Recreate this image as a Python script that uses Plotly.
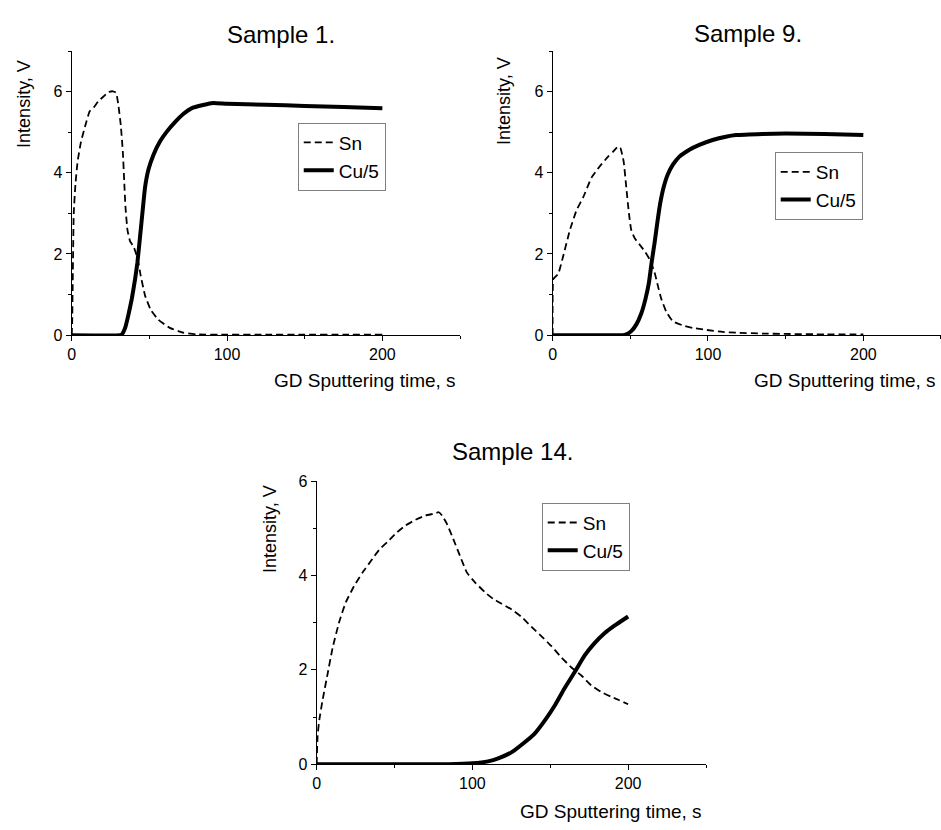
import plotly.graph_objects as go

# ---------------- data ----------------
s1_sn_t = [0, 0.3, 0.6, 1.3, 2.4, 3.8, 6, 8.8, 11.5, 14.1, 17.3, 20.5, 23.7, 26.5, 28.6, 30.1, 31.6, 32.9,
           33.8, 34.6, 35.9, 37.6, 39.7, 42.3, 44.4, 47.2, 50.9, 55.8, 63.2, 71.8, 80.3, 100, 125, 150, 175, 200]
s1_sn_v = [0, 0.3, 1.14, 3.0, 3.72, 4.28, 4.77, 5.17, 5.51, 5.61, 5.77, 5.88, 5.99, 6.01, 5.97, 5.65, 5.17, 4.52,
           3.8, 3.16, 2.59, 2.31, 2.19, 1.91, 1.47, 0.98, 0.62, 0.38, 0.18, 0.06, 0.02, 0.01, 0.01, 0.01, 0.01, 0.01]
s1_cu_t = [0, 31, 32.3, 34.4, 36.5, 38.7, 40.8, 42.3, 44, 45.7, 47.2, 49.4, 52.6, 56.8, 61.1, 66.5, 71.8, 77.1,
           84.6, 91, 100, 125, 150, 175, 200]
s1_cu_v = [0, 0, 0.02, 0.18, 0.5, 0.9, 1.38, 1.79, 2.43, 3.08, 3.64, 4.08, 4.44, 4.77, 5.01, 5.25, 5.45, 5.59,
           5.67, 5.72, 5.7, 5.68, 5.65, 5.62, 5.59]

s9_sn_t = [0, 0.4, 1.5, 3.6, 6.8, 11.1, 15.4, 19.7, 25, 30.3, 35.7, 38.9, 42.1, 43.6, 45.7, 47.4, 49.1, 50.6,
           52.8, 56, 59.2, 62.4, 65.6, 67.7, 69.9, 73.1, 77.4, 83.8, 90.2, 98.7, 109.4, 118, 135, 150, 175, 200]
s9_sn_v = [0, 1.38, 1.43, 1.51, 1.95, 2.59, 3.08, 3.4, 3.88, 4.16, 4.4, 4.52, 4.65, 4.61, 4.28, 3.64, 3.0, 2.59,
           2.39, 2.23, 2.07, 1.87, 1.55, 1.22, 0.9, 0.58, 0.34, 0.24, 0.18, 0.13, 0.08, 0.06, 0.04, 0.03, 0.02, 0.02]
s9_cu_t = [0, 45, 47.4, 50.6, 53.8, 57.1, 59.8, 62, 63.7, 65.6, 67.3, 69.2, 71.4, 74.1, 77.4, 81.6, 88, 94.4,
           103, 111.5, 118, 135, 150, 175, 200]
s9_cu_v = [0, 0, 0.02, 0.1, 0.26, 0.54, 0.9, 1.3, 1.79, 2.27, 2.75, 3.24, 3.64, 3.96, 4.2, 4.4, 4.57, 4.69,
           4.81, 4.89, 4.93, 4.96, 4.97, 4.96, 4.93]

s14_sn_t = [0, 0.6, 1.7, 3.8, 7, 10.2, 14.5, 18.7, 24.1, 29.4, 34.7, 40, 45.4, 50.7, 57.1, 63.5, 69.9, 75.2,
            78.4, 80.5, 83.7, 88, 92.2, 96.5, 101.8, 108.2, 113.5, 118.8, 125.2, 131.6, 138, 144.4, 150.8,
            157.2, 163.6, 170, 176.4, 182.7, 189.1, 194, 200]
s14_sn_v = [0, 0.6, 0.94, 1.36, 1.91, 2.46, 3.02, 3.43, 3.78, 4.06, 4.3, 4.54, 4.71, 4.89, 5.06, 5.18, 5.27, 5.31,
            5.34, 5.27, 5.09, 4.75, 4.4, 4.06, 3.85, 3.64, 3.5, 3.4, 3.28, 3.12, 2.91, 2.71, 2.5,
            2.26, 2.05, 1.88, 1.67, 1.53, 1.43, 1.36, 1.27]
s14_cu_t = [0, 85, 100, 110, 117, 125, 133, 140, 147, 153, 159, 166, 172, 178, 185, 191, 200]
s14_cu_v = [0, 0, 0.02, 0.06, 0.13, 0.25, 0.45, 0.65, 0.95, 1.25, 1.6, 1.97, 2.3, 2.55, 2.78, 2.93, 3.13]

titles = ["Sample 1.", "Sample 9.", "Sample 14."]
series_names = ["Sn", "Cu/5"]
x_title = "GD Sputtering time, s"
y_title = "Intensity, V"

# ---------------- layout geometry ----------------
W, H = 941, 830
FONT = "Arial, Liberation Sans, sans-serif"


def px(x):
    return x / W


def py(y):
    return 1 - y / H


# (x0, x1, ytop, ybottom, ymax)
panels = [
    (68, 458, 44, 334, 7),
    (551, 941, 44, 334, 7),
    (314, 705, 483, 772, 6),
]
data = [
    (s1_sn_t, s1_sn_v, s1_cu_t, s1_cu_v),
    (s9_sn_t, s9_sn_v, s9_cu_t, s9_cu_v),
    (s14_sn_t, s14_sn_v, s14_cu_t, s14_cu_v),
]
legend_pos = [(295, 117), (774, 147), (540, 505)]
title_pos = [(278, 27), (747, 26), (511, 453)]
ytitle_pos = [(20, 98), (502, 95), (267, 532)]
xtitle_pos = [(456, 380), (938, 380), (703, 820)]

fig = go.Figure()
layout = dict(
    width=W, height=H, margin=dict(l=0, r=0, t=0, b=0),
    paper_bgcolor="white", plot_bgcolor="white",
    font=dict(family=FONT, color="black"),
    annotations=[],
)

for i, ((x0, x1, yt, yb, ymax), (snt, snv, cut, cuv)) in enumerate(zip(panels, data)):
    k = "" if i == 0 else str(i + 1)
    leg = "legend" if i == 0 else f"legend{i + 1}"
    fig.add_trace(go.Scatter(
        x=snt, y=snv, mode="lines", name=series_names[0],
        line=dict(color="black", width=1.8, dash="7px,4px", shape="spline", smoothing=0.4),
        xaxis="x" + k, yaxis="y" + k, legend=leg))
    fig.add_trace(go.Scatter(
        x=cut, y=cuv, mode="lines", name=series_names[1],
        line=dict(color="black", width=4, shape="spline", smoothing=0.4),
        xaxis="x" + k, yaxis="y" + k, legend=leg))

    axcommon = dict(showline=True, linecolor="black", linewidth=1, showgrid=False, zeroline=False,
                    ticks="outside", ticklen=5, tickwidth=1, tickcolor="black",
                    tickfont=dict(family=FONT, size=16, color="black"), fixedrange=True)
    layout["xaxis" + k] = dict(
        axcommon, domain=[px(x0), px(x1)], range=[0, 250], dtick=100, tick0=0,
        anchor="y" + k,
        minor=dict(dtick=50, tick0=0, ticks="outside", ticklen=3, tickcolor="black", showgrid=False))
    layout["yaxis" + k] = dict(
        axcommon, domain=[py(yb), py(yt)], range=[0, ymax], dtick=2, tick0=0,
        anchor="x" + k,
        minor=dict(dtick=1, tick0=0, ticks="outside", ticklen=3, tickcolor="black", showgrid=False))

    lx, ly = legend_pos[i]
    layout[leg] = dict(
        x=px(lx), y=py(ly), xanchor="left", yanchor="top", xref="paper", yref="paper",
        bgcolor="white", bordercolor="#808080", borderwidth=1,
        font=dict(family=FONT, size=19, color="black"), itemwidth=30,
        tracegroupgap=0, traceorder="normal")

    tx, ty = title_pos[i]
    layout["annotations"].append(dict(
        text=titles[i], x=px(tx), y=py(ty), xref="paper", yref="paper",
        xanchor="center", yanchor="middle", showarrow=False,
        font=dict(family=FONT, size=24, color="black")))
    yx, yy = ytitle_pos[i]
    layout["annotations"].append(dict(
        text=y_title, x=px(yx), y=py(yy), xref="paper", yref="paper", textangle=-90,
        xanchor="center", yanchor="middle", showarrow=False,
        font=dict(family=FONT, size=18, color="black")))
    xx, xy = xtitle_pos[i]
    layout["annotations"].append(dict(
        text=x_title, x=px(xx), y=py(xy), xref="paper", yref="paper",
        xanchor="right", yanchor="middle", showarrow=False,
        font=dict(family=FONT, size=19, color="black")))

fig.update_layout(**layout)
fig.write_html("out.html")
